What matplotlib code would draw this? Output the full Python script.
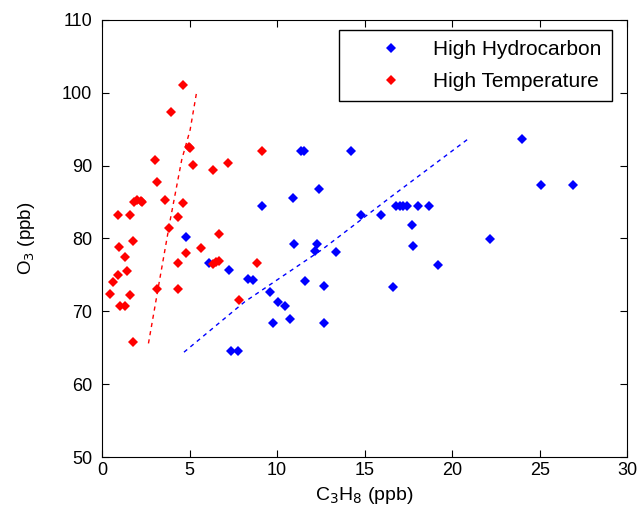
import numpy as np
import matplotlib
matplotlib.use('Agg')
from matplotlib import pyplot as plt

plt.rcParams['font.family'] = ['Liberation Sans', 'DejaVu Sans']

# high hydrocarbon days: C3H8 (ppb), O3 (ppb)
hc_x = [4.82, 6.1, 7.27, 7.34, 7.79, 8.32, 8.6, 9.14, 9.61, 9.75, 10.03, 10.43,
        10.71, 10.9, 10.99, 11.36, 11.55, 11.57, 12.16, 12.3, 12.39, 12.7, 12.7,
        13.35, 14.22, 14.82, 15.92, 16.62, 16.8, 17.0, 17.2, 17.4, 17.68, 17.79,
        18.07, 18.68, 19.2, 22.14, 23.99, 25.09, 26.89]
hc_y = [80.2, 76.6, 75.7, 64.6, 64.6, 74.4, 74.3, 84.4, 72.7, 68.4, 71.3, 70.7,
        69.0, 85.6, 79.2, 92.0, 92.0, 74.2, 78.3, 79.2, 86.8, 73.5, 68.4,
        78.2, 92.0, 83.2, 83.2, 73.3, 84.4, 84.4, 84.4, 84.4, 81.8, 79.0,
        84.4, 84.4, 76.4, 79.9, 93.65, 87.4, 87.4]

# high temperature days
ht_x = [0.47, 0.61, 0.89, 0.96, 0.89, 1.0, 1.29, 1.31, 1.43, 1.57, 1.57, 1.75,
        1.75, 1.8, 2.0, 2.2, 2.3, 3.02, 3.13, 3.13, 3.62, 3.83, 3.93, 4.33, 4.33,
        4.33, 4.61, 4.61, 4.82, 4.96, 5.05, 5.21, 5.68, 6.31, 6.31, 6.5, 6.66,
        6.69, 7.18, 7.81, 8.84, 9.14]
ht_y = [72.4, 74.0, 75.0, 78.9, 83.2, 70.7, 70.7, 77.5, 75.5, 72.2, 83.2, 79.7,
        65.8, 85.0, 85.3, 85.1, 85.0, 90.8, 87.7, 73.0, 85.3, 81.5, 97.4, 83.0, 76.6,
        73.1, 101.0, 84.9, 78.0, 92.5, 92.4, 90.1, 78.7, 89.4, 76.5, 76.8, 76.9,
        80.6, 90.3, 71.6, 76.6, 92.0]

# trend lines
hc_fit_x = [4.68, 8.14, 12.58, 16.55, 20.88]
hc_fit_y = [64.4, 71.3, 78.5, 85.8, 93.6]
ht_fit_x = [2.65, 3.22, 3.89, 4.55, 5.03, 5.41]
ht_fit_y = [65.6, 73.4, 82.5, 90.8, 94.9, 100.2]

fig = plt.figure(figsize=(6.38, 5.23), dpi=100)
ax = fig.add_axes([0.16, 0.126, 0.823, 0.836])

ax.plot(hc_x, hc_y, 'D', color='blue', ms=5, mew=0, label='High Hydrocarbon')
ax.plot(ht_x, ht_y, 'D', color='red', ms=5, mew=0, label='High Temperature')

ax.plot(hc_fit_x, hc_fit_y, '--', color='blue', lw=1, dashes=(3, 3))
ax.plot(ht_fit_x, ht_fit_y, '--', color='red', lw=1, dashes=(3, 3))

ax.set_xlim(0, 30)
ax.set_ylim(50, 110)
ax.set_xticks(range(0, 31, 5))
ax.set_yticks(range(50, 111, 10))
ax.tick_params(direction='in', top=True, right=True, labelsize=13, length=5)
ax.tick_params(axis='y', pad=7)
ax.set_xlabel('C$_3$H$_8$ (ppb)', fontsize=14)
ax.set_ylabel('O$_3$ (ppb)', fontsize=13.5, labelpad=18)

leg = ax.legend(loc='upper right', bbox_to_anchor=(0.971, 0.977), borderaxespad=0,
                fontsize=15, fancybox=False, framealpha=1, edgecolor='black',
                handlelength=4.0, handletextpad=0, labelspacing=0.6,
                borderpad=0.5)
leg.get_frame().set_linewidth(1)

fig.savefig('out.png')
